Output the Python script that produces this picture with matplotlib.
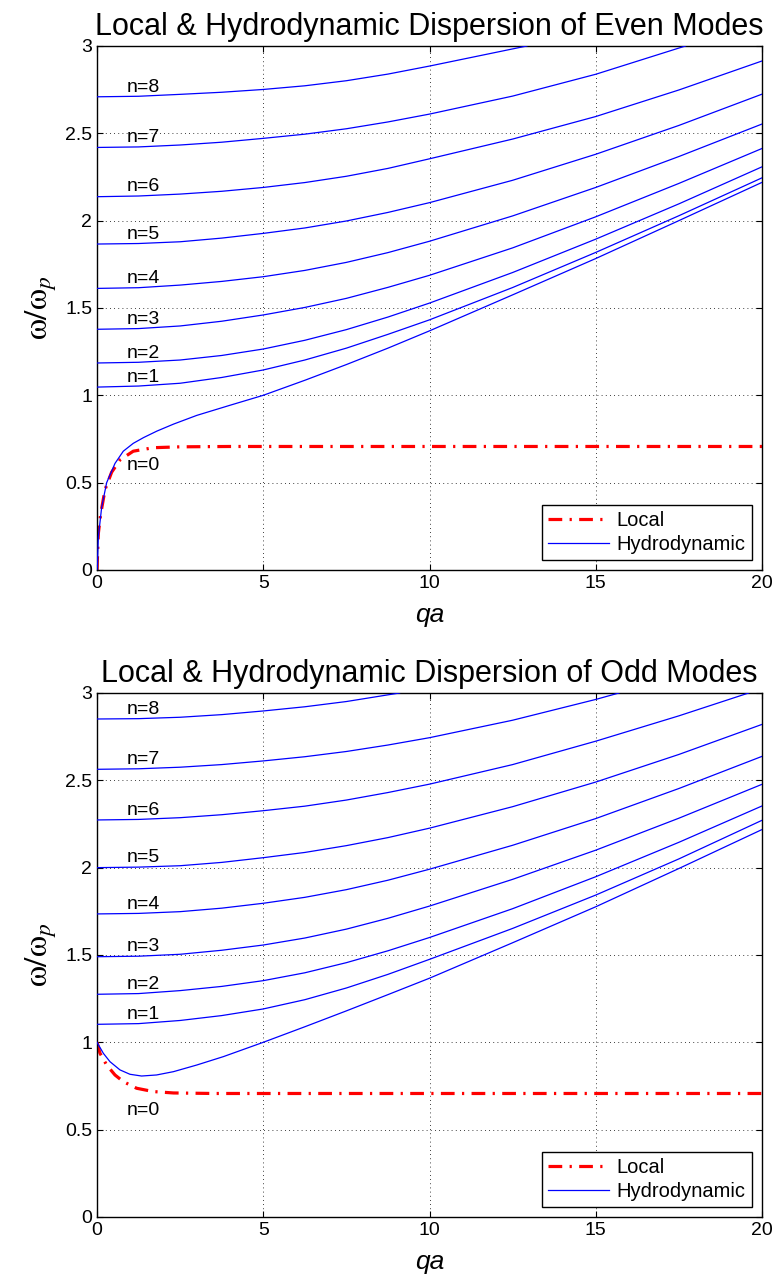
import matplotlib
matplotlib.use("Agg")
import matplotlib.pyplot as plt
from matplotlib.ticker import MultipleLocator

plt.rcParams["font.family"] = ["Liberation Sans", "DejaVu Sans"]
plt.rcParams["mathtext.fontset"] = "stix"

# common qa grid used for the flat-start modes
QA = [0, 1.25, 2.5, 3.75, 5, 6.25, 7.5, 8.75, 10, 12.5, 15, 17.5, 20]

# ---- even modes ----
even_local_x = [0, 0.01, 0.04, 0.11, 0.24, 0.44, 0.69, 1.09, 1.69, 2.5, 4, 20]
even_local_y = [0, 0.06, 0.21, 0.32, 0.46, 0.56, 0.63, 0.68, 0.70, 0.705, 0.707, 0.707]

even_n0_x = [0, 0.01, 0.04, 0.14, 0.29, 0.54, 0.79, 1.09, 1.4, 1.8, 2.3, 3.0, 4.0, 5,
             6.25, 7.5, 8.75, 10, 12.5, 15, 17.5, 20]
even_n0_y = [0, 0.02, 0.19, 0.36, 0.50, 0.61, 0.68, 0.725, 0.758, 0.795, 0.835, 0.885, 0.943, 1.0,
             1.086, 1.176, 1.270, 1.369, 1.575, 1.783, 2.0, 2.219]
even_n1 = [1.047, 1.053, 1.069, 1.102, 1.145, 1.202, 1.270, 1.349, 1.432, 1.617, 1.818, 2.028, 2.245]
even_n2 = [1.185, 1.189, 1.202, 1.228, 1.265, 1.315, 1.376, 1.448, 1.528, 1.703, 1.894, 2.096, 2.308]
even_n3 = [1.378, 1.382, 1.397, 1.424, 1.460, 1.503, 1.555, 1.618, 1.687, 1.844, 2.022, 2.213, 2.413]
even_n4 = [1.612, 1.616, 1.631, 1.652, 1.679, 1.715, 1.761, 1.817, 1.882, 2.027, 2.190, 2.367, 2.553]
even_n5 = [1.866, 1.869, 1.879, 1.900, 1.927, 1.958, 1.998, 2.047, 2.103, 2.231, 2.380, 2.545, 2.724]
even_n6 = [2.137, 2.141, 2.152, 2.168, 2.190, 2.218, 2.254, 2.299, 2.354, 2.467, 2.596, 2.748, 2.914]
even_n7_x = [0, 1.25, 2.5, 3.75, 5, 6.25, 7.5, 8.75, 10, 12.5, 15, 17.7]
even_n7_y = [2.419, 2.422, 2.433, 2.449, 2.471, 2.495, 2.526, 2.565, 2.610, 2.713, 2.838, 3.0]
even_n8_x = [0, 1.25, 2.5, 3.75, 5, 6.25, 7.5, 8.75, 10, 12.93]
even_n8_y = [2.709, 2.712, 2.723, 2.735, 2.751, 2.772, 2.801, 2.839, 2.885, 3.0]

# ---- odd modes ----
odd_local_x = [0, 0.09, 0.29, 0.54, 0.79, 1.19, 1.69, 2.3, 3.5, 20]
odd_local_y = [1.0, 0.937, 0.87, 0.813, 0.775, 0.737, 0.718, 0.71, 0.707, 0.707]

odd_n0_x = [0, 0.19, 0.39, 0.69, 0.99, 1.34, 1.79, 2.3, 3.0, 3.8, 5,
            6.25, 7.5, 8.75, 10, 12.5, 15, 17.5, 20]
odd_n0_y = [1.0, 0.937, 0.889, 0.842, 0.817, 0.807, 0.813, 0.832, 0.87, 0.918, 1.0,
            1.089, 1.180, 1.273, 1.367, 1.570, 1.776, 1.995, 2.218]
odd_n1 = [1.103, 1.107, 1.125, 1.153, 1.191, 1.244, 1.311, 1.389, 1.475, 1.652, 1.843, 2.050, 2.271]
odd_n2 = [1.275, 1.279, 1.296, 1.320, 1.353, 1.398, 1.456, 1.524, 1.600, 1.765, 1.948, 2.145, 2.353]
odd_n3 = [1.490, 1.493, 1.504, 1.527, 1.557, 1.597, 1.648, 1.710, 1.780, 1.933, 2.100, 2.283, 2.477]
odd_n4 = [1.735, 1.738, 1.748, 1.768, 1.796, 1.830, 1.874, 1.928, 1.991, 2.128, 2.281, 2.453, 2.637]
odd_n5 = [2.000, 2.003, 2.011, 2.030, 2.057, 2.087, 2.126, 2.172, 2.226, 2.349, 2.490, 2.648, 2.820]
odd_n6_x = [0, 1.25, 2.5, 3.75, 5, 6.25, 7.5, 8.75, 10, 12.5, 15, 17.5, 19.6]
odd_n6_y = [2.273, 2.276, 2.286, 2.303, 2.326, 2.352, 2.387, 2.430, 2.478, 2.590, 2.724, 2.869, 3.0]
odd_n7_x = [0, 1.25, 2.5, 3.75, 5, 6.25, 7.5, 8.75, 10, 12.5, 15, 15.7]
odd_n7_y = [2.563, 2.566, 2.575, 2.590, 2.611, 2.635, 2.665, 2.702, 2.744, 2.844, 2.963, 3.0]
odd_n8_x = [0, 1.25, 2.5, 3.75, 5, 6.25, 7.5, 9.1]
odd_n8_y = [2.851, 2.853, 2.861, 2.876, 2.897, 2.921, 2.951, 3.0]

even_modes = [(even_n0_x, even_n0_y), (QA, even_n1), (QA, even_n2), (QA, even_n3),
              (QA, even_n4), (QA, even_n5), (QA, even_n6),
              (even_n7_x, even_n7_y), (even_n8_x, even_n8_y)]
odd_modes = [(odd_n0_x, odd_n0_y), (QA, odd_n1), (QA, odd_n2), (QA, odd_n3),
             (QA, odd_n4), (QA, odd_n5), (odd_n6_x, odd_n6_y),
             (odd_n7_x, odd_n7_y), (odd_n8_x, odd_n8_y)]

LOCAL_STYLE = (0, (4.3, 2.3, 0.7, 2.3))


def draw_panel(ax, title, local_x, local_y, modes, n0_label_y):
    for k, (x, y) in enumerate(modes):
        ax.plot(x, y, color="blue", lw=0.9,
                label="Hydrodynamic" if k == 0 else None, zorder=3)
        ly = n0_label_y if k == 0 else y[0] + 0.03
        ax.text(0.89, ly, f"n={k}", fontsize=14, va="baseline", ha="left", zorder=4)
    ax.plot(local_x, local_y, color="red", lw=2.3, ls=LOCAL_STYLE, label="Local", zorder=2)

    ax.set_xlim(0, 20)
    ax.set_ylim(0, 3)
    ax.xaxis.set_major_locator(MultipleLocator(5))
    ax.yaxis.set_major_locator(MultipleLocator(0.5))
    ax.yaxis.set_major_formatter(plt.FuncFormatter(lambda v, p: f"{v:g}"))
    ax.tick_params(direction="in", top=True, right=True, labelsize=14, length=4, width=0.8)
    ax.grid(True, color="black", lw=0.6, ls=(0, (1, 4)))
    for s in ax.spines.values():
        s.set_linewidth(1.0)
    ax.set_title(title, fontsize=22, pad=8)
    ax.set_xlabel("qa", fontsize=19, style="italic", labelpad=8)
    ax.set_ylabel(r"$\mathrm{\omega}/\mathrm{\omega}_p$", fontsize=24, labelpad=4)

    handles, labels = ax.get_legend_handles_labels()
    order = [labels.index("Local"), labels.index("Hydrodynamic")]
    leg = ax.legend([handles[i] for i in order], [labels[i] for i in order],
                    loc="lower right", fontsize=14.5, handlelength=3.0, handletextpad=0.4,
                    labelspacing=0.25, borderpad=0.3, borderaxespad=0.5,
                    fancybox=False, framealpha=1)
    leg.get_frame().set_edgecolor("black")
    leg.get_frame().set_linewidth(1.0)


fig = plt.figure(figsize=(7.75, 12.84), dpi=100)
ax1 = fig.add_axes([0.1252, 0.5561, 0.858, 0.4081])
ax2 = fig.add_axes([0.1252, 0.0522, 0.858, 0.4081])

draw_panel(ax1, "Local & Hydrodynamic Dispersion of Even Modes",
           even_local_x, even_local_y, even_modes, 0.572)
draw_panel(ax2, "Local & Hydrodynamic Dispersion of Odd Modes",
           odd_local_x, odd_local_y, odd_modes, 0.584)

fig.savefig("out.png", dpi=100)
